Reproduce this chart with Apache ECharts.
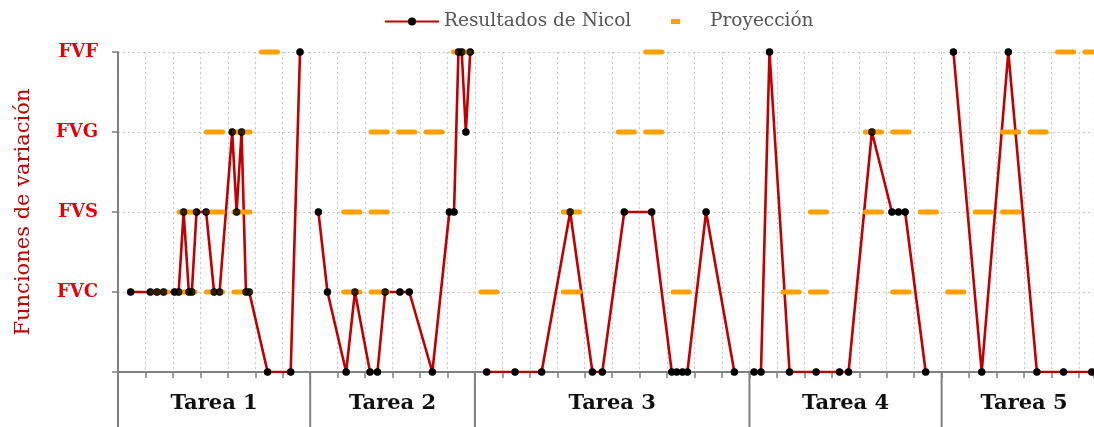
<!DOCTYPE html>
<html>
<head>
<meta charset="utf-8">
<title>Resultados de Nicol</title>
<script src="https://cdn.jsdelivr.net/npm/echarts@6/dist/echarts.min.js"></script>
<style>
  html, body { margin: 0; padding: 0; background: #fff; }
  #chart { width: 1094px; height: 427px; }
</style>
</head>
<body>
<div id="chart"></div>
<script>
// Levels of the variation-function scale (index = y value)
const levels = ['', 'FVC', 'FVS', 'FVG', 'FVF'];

// Task groups along the horizontal axis
const tareaNames = ['Tarea 1', 'Tarea 2', 'Tarea 3', 'Tarea 4', 'Tarea 5'];
const tareaBounds = [0, 7, 13, 23, 30, 36];

// Nicol's results per task: [x, level]
const nicolT1 = [[0.46,1],[1.18,1],[1.42,1],[1.66,1],[2.06,1],[2.21,1],[2.39,2],[2.58,1],[2.69,1],[2.86,2],[3.21,2],[3.50,1],[3.70,1],[4.16,3],[4.32,2],[4.50,3],[4.66,1],[4.78,1],[5.45,0],[6.29,0],[6.63,4]];
const nicolT2 = [[7.30,2],[7.63,1],[8.31,0],[8.63,1],[9.18,0],[9.45,0],[9.73,1],[10.27,1],[10.61,1],[11.45,0],[12.07,2],[12.24,2],[12.40,4],[12.52,4],[12.67,3],[12.83,4]];
const nicolT3 = [[13.43,0],[14.46,0],[15.43,0],[16.47,2],[17.28,0],[17.64,0],[18.44,2],[19.44,2],[20.17,0],[20.35,0],[20.56,0],[20.74,0],[21.42,2],[22.45,0]];
const nicolT4 = [[23.17,0],[23.42,0],[23.73,4],[24.46,0],[25.43,0],[26.28,0],[26.61,0],[27.46,3],[28.19,2],[28.43,2],[28.67,2],[29.42,0]];
const nicolT5 = [[30.43,4],[31.46,0],[32.43,4],[33.47,0],[34.44,0],[35.47,0]];

// Projection: [day, level]
const proyeccion = [
  [1,1],[2,1],[2,2],[3,1],[3,2],[3,3],[4,1],[4,2],[4,3],[5,4],
  [8,1],[8,2],[9,1],[9,2],[9,3],[10,3],[11,3],[12,4],
  [13,1],[16,1],[16,2],[18,3],[19,3],[19,4],[20,1],
  [24,1],[25,1],[25,2],[27,2],[27,3],[28,1],[28,3],[29,2],
  [30,1],[31,2],[32,2],[32,3],[33,3],[34,4],[35,4]
];

// visible end of the horizontal axis (the last task runs past the frame)
const xVisibleMax = 35.55;

const RED = '#c00000';
const ORANGE = '#ffa000';
const GRAY = '#808080';
const SERIF = '"DejaVu Serif", "Liberation Serif", serif';

const nicolSets = [nicolT1, nicolT2, nicolT3, nicolT4, nicolT5];

const lineSeries = nicolSets.map(d => ({
  name: 'Resultados de Nicol',
  type: 'line',
  data: d,
  z: 2,
  symbol: 'circle',
  symbolSize: 7,
  showSymbol: true,
  itemStyle: { color: '#000' },
  lineStyle: { color: RED, width: 2.6 },
  emphasis: { disabled: true }
}));

// dots redrawn above the projection dashes
const dotSeries = nicolSets.map(d => ({
  name: 'puntos',
  type: 'scatter',
  data: d,
  z: 4,
  symbol: 'circle',
  symbolSize: 7.5,
  itemStyle: { color: '#000' },
  silent: true
}));

const proySeries = {
  name: 'Proyección',
  type: 'custom',
  z: 3,
  data: proyeccion,
  itemStyle: { color: ORANGE },
  renderItem: function (params, api) {
    const k = api.value(0), lv = api.value(1);
    const p0 = api.coord([k + 0.22, lv]);
    const p1 = api.coord([k + 0.81, lv]);
    return {
      type: 'line',
      shape: { x1: p0[0], y1: p0[1], x2: p1[0], y2: p1[1] },
      style: { stroke: ORANGE, lineWidth: 5, lineCap: 'round' }
    };
  }
};

// task separators and names below the axis
const tareaSeries = {
  name: 'tareas',
  type: 'custom',
  clip: false,
  silent: true,
  z: 1,
  data: tareaNames.map((n, i) => [tareaBounds[i], tareaBounds[i + 1]]),
  renderItem: function (params, api) {
    const a = api.coord([api.value(0), 0]);
    const b = api.coord([api.value(1), 0]);
    return {
      type: 'group',
      children: [
        { type: 'line', shape: { x1: a[0], y1: a[1], x2: a[0], y2: a[1] + 60 },
          style: { stroke: GRAY, lineWidth: 2 } },
        { type: 'text', x: (a[0] + b[0]) / 2, y: a[1] + 32,
          style: { text: tareaNames[params.dataIndex], fill: '#111',
                   font: 'bold 21px ' + SERIF, align: 'center', verticalAlign: 'middle' } }
      ]
    };
  }
};

const chart = echarts.init(document.getElementById('chart'));
chart.setOption({
  animation: false,
  backgroundColor: '#fff',
  legend: [
    {
      data: [{ name: 'Resultados de Nicol' }],
      left: 379, top: 7,
      itemWidth: 54, itemHeight: 10,
      textStyle: { color: '#555', fontFamily: SERIF, fontSize: 18.5 }
    },
    {
      data: [{ name: 'Proyección', icon: 'rect' }],
      left: 666, top: 7,
      itemWidth: 9, itemHeight: 5,
      textStyle: { color: '#555', fontFamily: SERIF, fontSize: 18.5, padding: [0, 0, 0, 25] }
    }
  ],
  grid: { left: 118, right: 0, top: 52, bottom: 55 },
  xAxis: {
    type: 'value',
    min: 0, max: xVisibleMax, interval: 1,
    axisLine: { show: true, lineStyle: { color: GRAY, width: 2 } },
    axisTick: { show: true, length: 6, lineStyle: { color: GRAY, width: 1.5 } },
    axisLabel: { show: false },
    splitLine: { show: true, lineStyle: { color: '#c8c8c8', type: [2, 3], width: 1.2 } }
  },
  yAxis: {
    type: 'value',
    min: 0, max: 4, interval: 1,
    name: 'Funciones de variación',
    nameLocation: 'middle',
    nameGap: 84,
    nameTextStyle: { color: RED, fontFamily: SERIF, fontSize: 21 },
    axisLine: { show: true, lineStyle: { color: GRAY, width: 2 } },
    axisTick: { show: true, length: 6, lineStyle: { color: GRAY, width: 1.5 } },
    axisLabel: {
      formatter: v => levels[v] || '',
      color: '#e60000', fontFamily: SERIF, fontWeight: 'bold', fontSize: 18, margin: 20
    },
    splitLine: { show: true, lineStyle: { color: '#c8c8c8', type: [2, 3], width: 1.2 } }
  },
  series: [...lineSeries, proySeries, ...dotSeries, tareaSeries]
});
</script>
</body>
</html>
